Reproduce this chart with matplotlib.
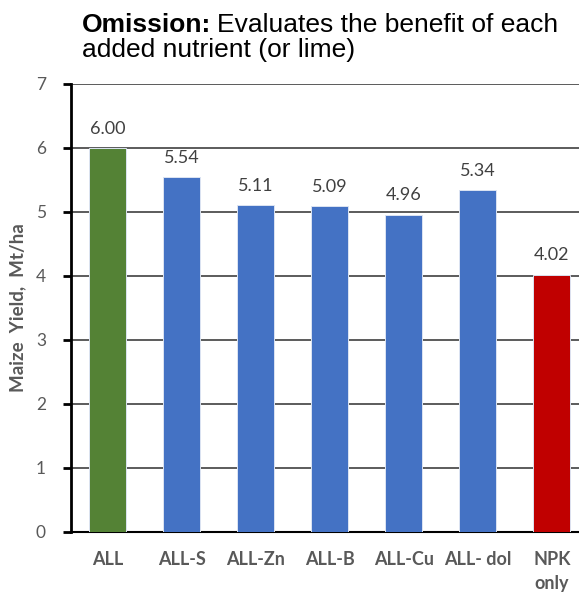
import matplotlib
matplotlib.use("Agg")
import matplotlib.pyplot as plt

categories = ["ALL", "ALL-S", "ALL-Zn", "ALL-B", "ALL-Cu", "ALL- dol", "NPK\nonly"]
yields = [6.00, 5.54, 5.11, 5.09, 4.96, 5.34, 4.02]
bar_colors = ["#548235", "#4472C4", "#4472C4", "#4472C4", "#4472C4", "#4472C4", "#C00000"]
y_ticks = [0, 1, 2, 3, 4, 5, 6, 7]

W, H = 579, 596
fig = plt.figure(figsize=(W / 100, H / 100), dpi=100)
ax = fig.add_axes([71 / W, 1 - 532 / H, (W - 71) / W, (532 - 84) / H])

x = list(range(len(categories)))
ax.bar(x, yields, width=0.5, color=bar_colors, edgecolor="#dce4f2", linewidth=0.7, zorder=3)

# value labels above each bar
for xi, v in zip(x, yields):
    ax.text(xi, v + 0.225, f"{v:.2f}", ha="center", va="baseline", fontsize=13,
            color="#404040", family="Lato")

ax.set_ylim(0, 7)
ax.set_xlim(-0.5, 6.365)
ax.set_yticks(y_ticks)
ax.set_yticklabels([str(t) for t in y_ticks], fontsize=12.5, color="#595959", family="Lato")
ax.yaxis.grid(True, color="#404040", linewidth=1.2, zorder=0)
ax.set_axisbelow(True)

ax.set_xticks(x)
ax.set_xticklabels(categories, fontsize=13, fontweight="bold", color="#595959",
                   family="Lato", linespacing=1.45, va="top")
ax.tick_params(axis="x", length=0, pad=14)
ax.tick_params(axis="y", direction="out", length=6, width=2, color="black", pad=12)

for side in ["top", "right"]:
    ax.spines[side].set_visible(False)
ax.spines["left"].set_linewidth(2)
ax.spines["bottom"].set_linewidth(1.5)

ax.set_ylabel("Maize  Yield,  Mt/ha", fontsize=13.5, fontweight="bold", color="#595959",
              family="Lato", labelpad=7)

# title: bold lead word followed by plain text, two lines
t1 = fig.text(82 / W, 1 - 32 / H, "Omission:", fontsize=19, fontweight="bold",
              family="Liberation Sans", va="baseline", ha="left")
fig.canvas.draw()
bb = t1.get_window_extent()
fig.text((bb.x1 + 6) / W, 1 - 32 / H, "Evaluates the benefit of each", fontsize=19,
         family="Liberation Sans", va="baseline", ha="left")
fig.text(82 / W, 1 - 57 / H, "added nutrient (or lime)", fontsize=19,
         family="Liberation Sans", va="baseline", ha="left")

fig.savefig("out.png", dpi=100)
